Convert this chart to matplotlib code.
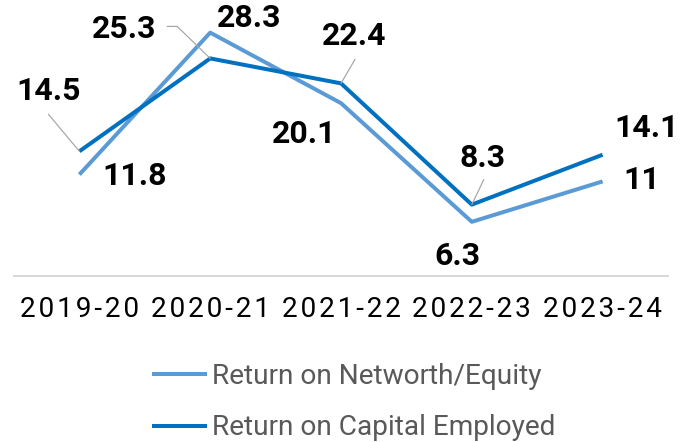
import matplotlib
matplotlib.use("Agg")
import matplotlib.pyplot as plt
from matplotlib.transforms import offset_copy

plt.rcParams['font.family'] = ['Roboto', 'DejaVu Sans']

years = ['2019-20', '2020-21', '2021-22', '2022-23', '2023-24']
ronw = [11.8, 28.3, 20.1, 6.3, 11]
roce = [14.5, 25.3, 22.4, 8.3, 14.1]

# label offsets (px, y up) and leader end offsets for each point
ronw_off = [(55, -1), (39, 15), (-37, -31), (-14, -34), (39, 1)]
roce_off = [(-31, 60), (-86, 29), (13, 47), (11, 47), (44, 27)]
roce_lead = [(-31, 37), (-33, 32), (14, 24), (12, 25), None]

c_light = '#5B9BD5'
c_dark = '#0070C0'
lead_c = '#a6a6a6'
PX = 0.72  # points per pixel at dpi 100

fig = plt.figure(figsize=(6.82, 4.42), dpi=100)
ax = fig.add_axes([14 / 682, (442 - 276) / 442, 654 / 682, 258 / 442])

x = list(range(len(years)))
l1, = ax.plot(x, ronw, color=c_light, lw=4 * PX, solid_capstyle='butt', label='Return on Networth/Equity')
l2, = ax.plot(x, roce, color=c_dark, lw=4 * PX, solid_capstyle='butt', label='Return on Capital Employed')

ax.set_xlim(-0.5, 4.5)
ax.set_ylim(0, 30)
for s in ['top', 'right', 'left']:
    ax.spines[s].set_visible(False)
ax.spines['bottom'].set_color('#d9d9d9')
ax.spines['bottom'].set_linewidth(2 * PX)
ax.set_yticks([])
ax.set_xticks(x)
ax.set_xticklabels(['\u200a'.join(y) for y in years], fontsize=28 * PX, color='black')
ax.tick_params(axis='x', length=0, pad=20 * PX)

lbl = dict(textcoords='offset points', ha='center', va='center',
           fontsize=32 * PX, fontweight='bold', color='black')
lead = dict(arrowstyle='-', color=lead_c, lw=1.2 * PX, shrinkA=0, shrinkB=0)

for i, v in enumerate(ronw):
    dx, dy = ronw_off[i]
    ax.annotate('%g' % v, (i, v), xytext=(dx * PX, dy * PX), **lbl)

for i, v in enumerate(roce):
    dx, dy = roce_off[i]
    ax.annotate('%g' % v, (i, v), xytext=(dx * PX, dy * PX), **lbl)
    if roce_lead[i] is not None:
        lx, ly = roce_lead[i]
        ax.annotate('', (i, v), xytext=(lx * PX, ly * PX), textcoords='offset points',
                    arrowprops=lead)

# short horizontal piece of the 25.3 leader
corner = offset_copy(ax.transData, fig=fig, x=-33 * PX, y=32 * PX, units='points')
ax.annotate('', (1, roce[1]), xycoords=corner, xytext=(-10 * PX, 0),
            textcoords='offset points', arrowprops=lead)

fig.legend(handles=[l1, l2], loc='upper left', bbox_to_anchor=(152 / 682, 1 - 363 / 442),
           frameon=False, fontsize=28 * PX, labelcolor='#595959', handlelength=1.96,
           handletextpad=0.18, labelspacing=0.87, borderpad=0, borderaxespad=0)

fig.savefig('out.png', dpi=100)
